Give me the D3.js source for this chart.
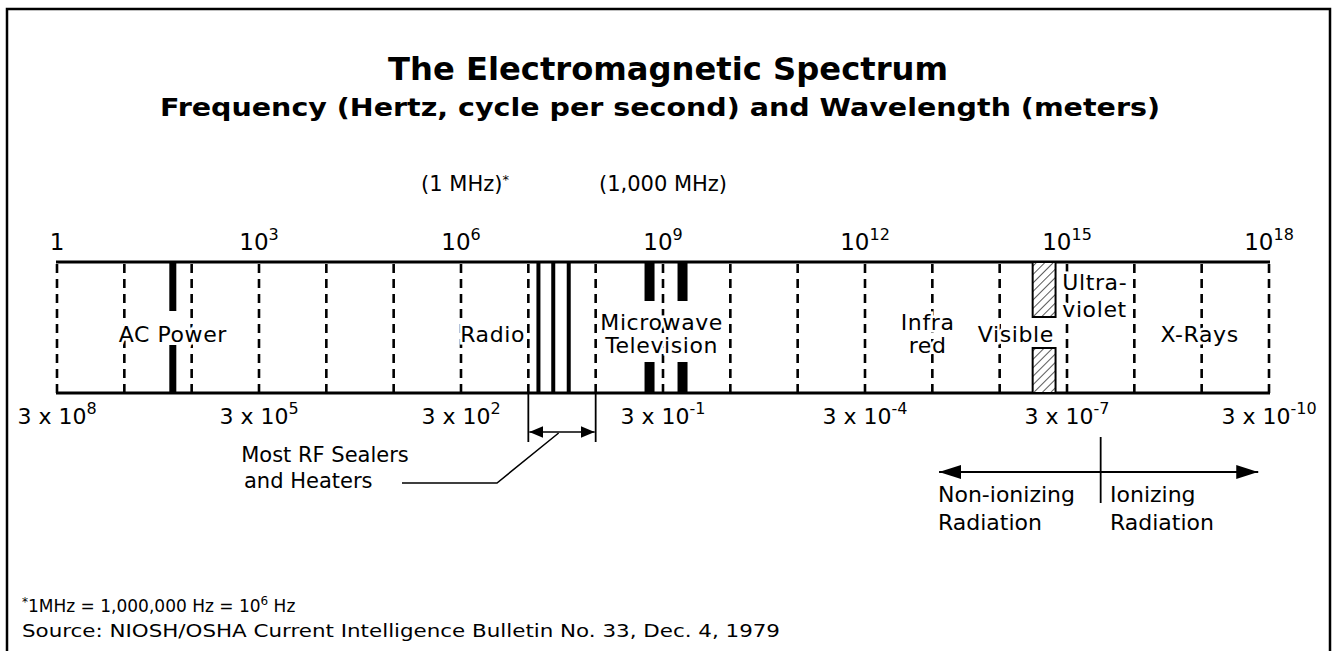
<!DOCTYPE html>
<html>
<head>
<meta charset="utf-8">
<script src="https://cdn.jsdelivr.net/npm/d3@7"></script>
<style>
  body { margin: 0; background: #fff; }
  svg { display: block; font-family: 'DejaVu Sans', sans-serif; }
</style>
</head>
<body>
<svg id="chart" width="1335" height="651"></svg>
<script>
// frequency axis is in log10(Hz), wavelength axis in log10(m)
const decades = d3.range(0, 19);
const freqTicks = [0, 3, 6, 9, 12, 15, 18];
const freqTickLabels = ['1', '10|3', '10|6', '10|9', '10|12', '10|15', '10|18'];
const waveTicks = [8, 5, 2, -1, -4, -7, -10];
const waveTickLabels = ['3 x 10|8', '3 x 10|5', '3 x 10|2', '3 x 10|-1', '3 x 10|-4', '3 x 10|-7', '3 x 10|-10'];
const mhzNotes = [{ at: 6, text: '(1 MHz)', star: true }, { at: 9, text: '(1,000 MHz)', star: false }];

const acPower = 1.72;
const rfLines = [7.15, 7.37, 7.6];
const rfRange = [7, 8];
const microwaveBars = [8.8, 9.29];
const visibleBand = [14.49, 14.83];
const ionizingBoundary = 15.5;
const radiationArrow = [13.1, 17.84];

const bandLabels = [
  { at: 1.72, lines: ['AC Power'], anchor: 'middle' },
  { at: 6.47, lines: ['Radio'], anchor: 'middle' },
  { at: 8.98, lines: ['Microwave', 'Television'], anchor: 'middle' },
  { at: 12.93, lines: ['Infra', 'red'], anchor: 'middle' },
  { at: 14.24, lines: ['Visible'], anchor: 'middle' },
  { at: 14.93, lines: ['Ultra-', 'violet'], anchor: 'start' },
  { at: 16.97, lines: ['X-Rays'], anchor: 'middle' },
];

const svg = d3.select('#chart');
const barTop = 262;
const barBottom = 393;

const x = d3.scaleLinear().domain([0, 18]).range([57, 1269]);
const xWave = d3.scaleLinear().domain([8, -10]).range([57, 1269]);

// frame
svg.append('path')
  .attr('d', 'M7,651 V9 H1330 V651')
  .attr('fill', 'none')
  .attr('stroke', '#000')
  .attr('stroke-width', 2.5);

svg.append('text')
  .attr('x', 668).attr('y', 80)
  .attr('text-anchor', 'middle')
  .attr('font-weight', 'bold')
  .attr('font-size', 32)
  .attr('textLength', 560)
  .attr('lengthAdjust', 'spacingAndGlyphs')
  .text('The Electromagnetic Spectrum');

svg.append('text')
  .attr('x', 660).attr('y', 116)
  .attr('text-anchor', 'middle')
  .attr('font-weight', 'bold')
  .attr('font-size', 25)
  .attr('textLength', 1000)
  .attr('lengthAdjust', 'spacingAndGlyphs')
  .text('Frequency  (Hertz, cycle per second) and Wavelength (meters)');

const defs = svg.append('defs');

defs.append('pattern')
  .attr('id', 'hatch')
  .attr('patternUnits', 'userSpaceOnUse')
  .attr('width', 6).attr('height', 6)
  .attr('patternTransform', 'rotate(45)')
  .append('line')
  .attr('x1', 0).attr('y1', 0).attr('x2', 0).attr('y2', 6)
  .attr('stroke', '#000')
  .attr('stroke-width', 1.3);

function arrowMarker(id, len, half, orient) {
  defs.append('marker')
    .attr('id', id)
    .attr('viewBox', `0 ${-half} ${len} ${half * 2}`)
    .attr('refX', len).attr('refY', 0)
    .attr('markerUnits', 'userSpaceOnUse')
    .attr('markerWidth', len).attr('markerHeight', half * 2)
    .attr('orient', orient)
    .append('path')
    .attr('d', `M0,${-half} L${len},0 L0,${half} Z`)
    .attr('fill', '#000');
}
arrowMarker('headSmall', 14, 6, 'auto-start-reverse');
arrowMarker('headBig', 22, 7, 'auto-start-reverse');

function addRich(sel, label, supSize, supShift) {
  const parts = label.split('|');
  sel.append('tspan').text(parts[0]);
  if (parts.length > 1) {
    sel.append('tspan')
      .attr('font-size', supSize)
      .attr('dy', -supShift)
      .text(parts[1]);
  }
}

// dashed decade lines
svg.append('g')
  .selectAll('line')
  .data(decades)
  .join('line')
  .attr('x1', d => x(d)).attr('x2', d => x(d))
  .attr('y1', barTop + 2).attr('y2', barBottom)
  .attr('stroke', '#000')
  .attr('stroke-width', 2.6)
  .attr('stroke-dasharray', '9,6');

// top and bottom rails
svg.append('g')
  .selectAll('line')
  .data([barTop, barBottom])
  .join('line')
  .attr('x1', x(0) - 1).attr('x2', x(18) + 1)
  .attr('y1', d => d).attr('y2', d => d)
  .attr('stroke', '#000')
  .attr('stroke-width', 3);

// AC power mark with gap for the label
svg.append('g')
  .selectAll('rect')
  .data([[barTop, 311], [345, barBottom]])
  .join('rect')
  .attr('x', x(acPower) - 3.5).attr('width', 7)
  .attr('y', d => d[0]).attr('height', d => d[1] - d[0]);

// RF sealer frequencies
svg.append('g')
  .selectAll('rect')
  .data(rfLines)
  .join('rect')
  .attr('x', d => x(d) - 2).attr('width', 4)
  .attr('y', barTop).attr('height', barBottom - barTop);

// microwave marks
svg.append('g')
  .selectAll('rect')
  .data(microwaveBars.flatMap(f => [[f, barTop, 301], [f, 362, barBottom]]))
  .join('rect')
  .attr('x', d => x(d[0]) - 5).attr('width', 10)
  .attr('y', d => d[1]).attr('height', d => d[2] - d[1]);

// visible band
svg.append('g')
  .selectAll('rect')
  .data([[barTop, 317], [348, barBottom]])
  .join('rect')
  .attr('x', x(visibleBand[0])).attr('width', x(visibleBand[1]) - x(visibleBand[0]))
  .attr('y', d => d[0]).attr('height', d => d[1] - d[0])
  .attr('fill', '#fff');
svg.append('g')
  .selectAll('rect')
  .data([[barTop, 317], [348, barBottom]])
  .join('rect')
  .attr('x', x(visibleBand[0])).attr('width', x(visibleBand[1]) - x(visibleBand[0]))
  .attr('y', d => d[0]).attr('height', d => d[1] - d[0])
  .attr('fill', 'url(#hatch)')
  .attr('stroke', '#000')
  .attr('stroke-width', 2);

// band names
const lineGap = 23;
bandLabels.forEach(b => {
  const n = b.lines.length;
  const t = svg.append('text')
    .attr('text-anchor', b.anchor)
    .attr('font-size', 22)
    .attr('letter-spacing', 0.6)
    .attr('stroke', '#fff')
    .attr('stroke-width', 5)
    .attr('paint-order', 'stroke')
    .attr('fill', '#000');
  const y0 = b.lines[0] === 'Ultra-' ? 290 : (n === 1 ? 342 : 330);
  const gap = b.lines[0] === 'Ultra-' ? 27 : lineGap;
  b.lines.forEach((line, i) => {
    t.append('tspan')
      .attr('x', x(b.at))
      .attr('y', y0 + i * gap)
      .text(line);
  });
});

// frequency labels
svg.append('g')
  .selectAll('text')
  .data(freqTicks)
  .join('text')
  .attr('x', d => x(d))
  .attr('y', 250)
  .attr('text-anchor', 'middle')
  .attr('font-size', 23)
  .each(function (d, i) { addRich(d3.select(this), freqTickLabels[i], 16, 10); });

svg.append('g')
  .selectAll('text')
  .data(mhzNotes)
  .join('text')
  .attr('x', d => x(d.at) + (d.star ? 4 : 0))
  .attr('y', 191)
  .attr('text-anchor', 'middle')
  .attr('font-size', 21)
  .each(function (d) {
    d3.select(this).append('tspan').text(d.text);
    if (d.star) {
      d3.select(this).append('tspan').attr('font-size', 13).attr('dy', -7).text('*');
    }
  });

// wavelength labels
svg.append('g')
  .selectAll('text')
  .data(waveTicks)
  .join('text')
  .attr('x', d => xWave(d))
  .attr('y', 424)
  .attr('text-anchor', 'middle')
  .attr('font-size', 22)
  .each(function (d, i) { addRich(d3.select(this), waveTickLabels[i], 16, 10); });

// RF sealers bracket
svg.append('g')
  .selectAll('line')
  .data(rfRange)
  .join('line')
  .attr('x1', d => x(d)).attr('x2', d => x(d))
  .attr('y1', barBottom).attr('y2', 442)
  .attr('stroke', '#000')
  .attr('stroke-width', 1.8);

svg.append('line')
  .attr('x1', x(rfRange[0]) + 1).attr('x2', x(rfRange[1]) - 1)
  .attr('y1', 432).attr('y2', 432)
  .attr('stroke', '#000')
  .attr('stroke-width', 1.5)
  .attr('marker-start', 'url(#headSmall)')
  .attr('marker-end', 'url(#headSmall)');

svg.append('path')
  .attr('d', `M${x(7.45)},433 L497,483 L402,483`)
  .attr('fill', 'none')
  .attr('stroke', '#000')
  .attr('stroke-width', 1.5);

svg.append('text')
  .attr('x', 325).attr('y', 462)
  .attr('text-anchor', 'middle')
  .attr('font-size', 21)
  .text('Most RF Sealers');

svg.append('text')
  .attr('x', 244).attr('y', 488)
  .attr('font-size', 21)
  .text('and Heaters');

// ionizing / non-ionizing
svg.append('line')
  .attr('x1', x(ionizingBoundary)).attr('x2', x(ionizingBoundary))
  .attr('y1', 437).attr('y2', 503)
  .attr('stroke', '#000')
  .attr('stroke-width', 1.8);

svg.append('line')
  .attr('x1', x(radiationArrow[0])).attr('x2', x(radiationArrow[1]))
  .attr('y1', 472).attr('y2', 472)
  .attr('stroke', '#000')
  .attr('stroke-width', 1.8)
  .attr('marker-start', 'url(#headBig)')
  .attr('marker-end', 'url(#headBig)');

const radText = [
  { x: 938, y: 502, text: 'Non-ionizing' },
  { x: 938, y: 530, text: 'Radiation' },
  { x: 1110, y: 502, text: 'Ionizing' },
  { x: 1110, y: 530, text: 'Radiation' },
];
svg.append('g')
  .selectAll('text')
  .data(radText)
  .join('text')
  .attr('x', d => d.x).attr('y', d => d.y)
  .attr('font-size', 22)
  .text(d => d.text);

// footnotes
const foot1 = svg.append('text')
  .attr('x', 22).attr('y', 612)
  .attr('font-size', 17);
foot1.append('tspan').attr('font-size', 12).attr('dy', -6).text('*');
foot1.append('tspan').attr('dy', 6).text('1MHz = 1,000,000 Hz = 10');
foot1.append('tspan').attr('font-size', 12).attr('dy', -7).text('6');
foot1.append('tspan').attr('dy', 7).text(' Hz');

svg.append('text')
  .attr('x', 22).attr('y', 637)
  .attr('font-size', 18)
  .attr('textLength', 758)
  .attr('lengthAdjust', 'spacingAndGlyphs')
  .text('Source:  NIOSH/OSHA Current Intelligence Bulletin No. 33, Dec. 4, 1979');
</script>
</body>
</html>
